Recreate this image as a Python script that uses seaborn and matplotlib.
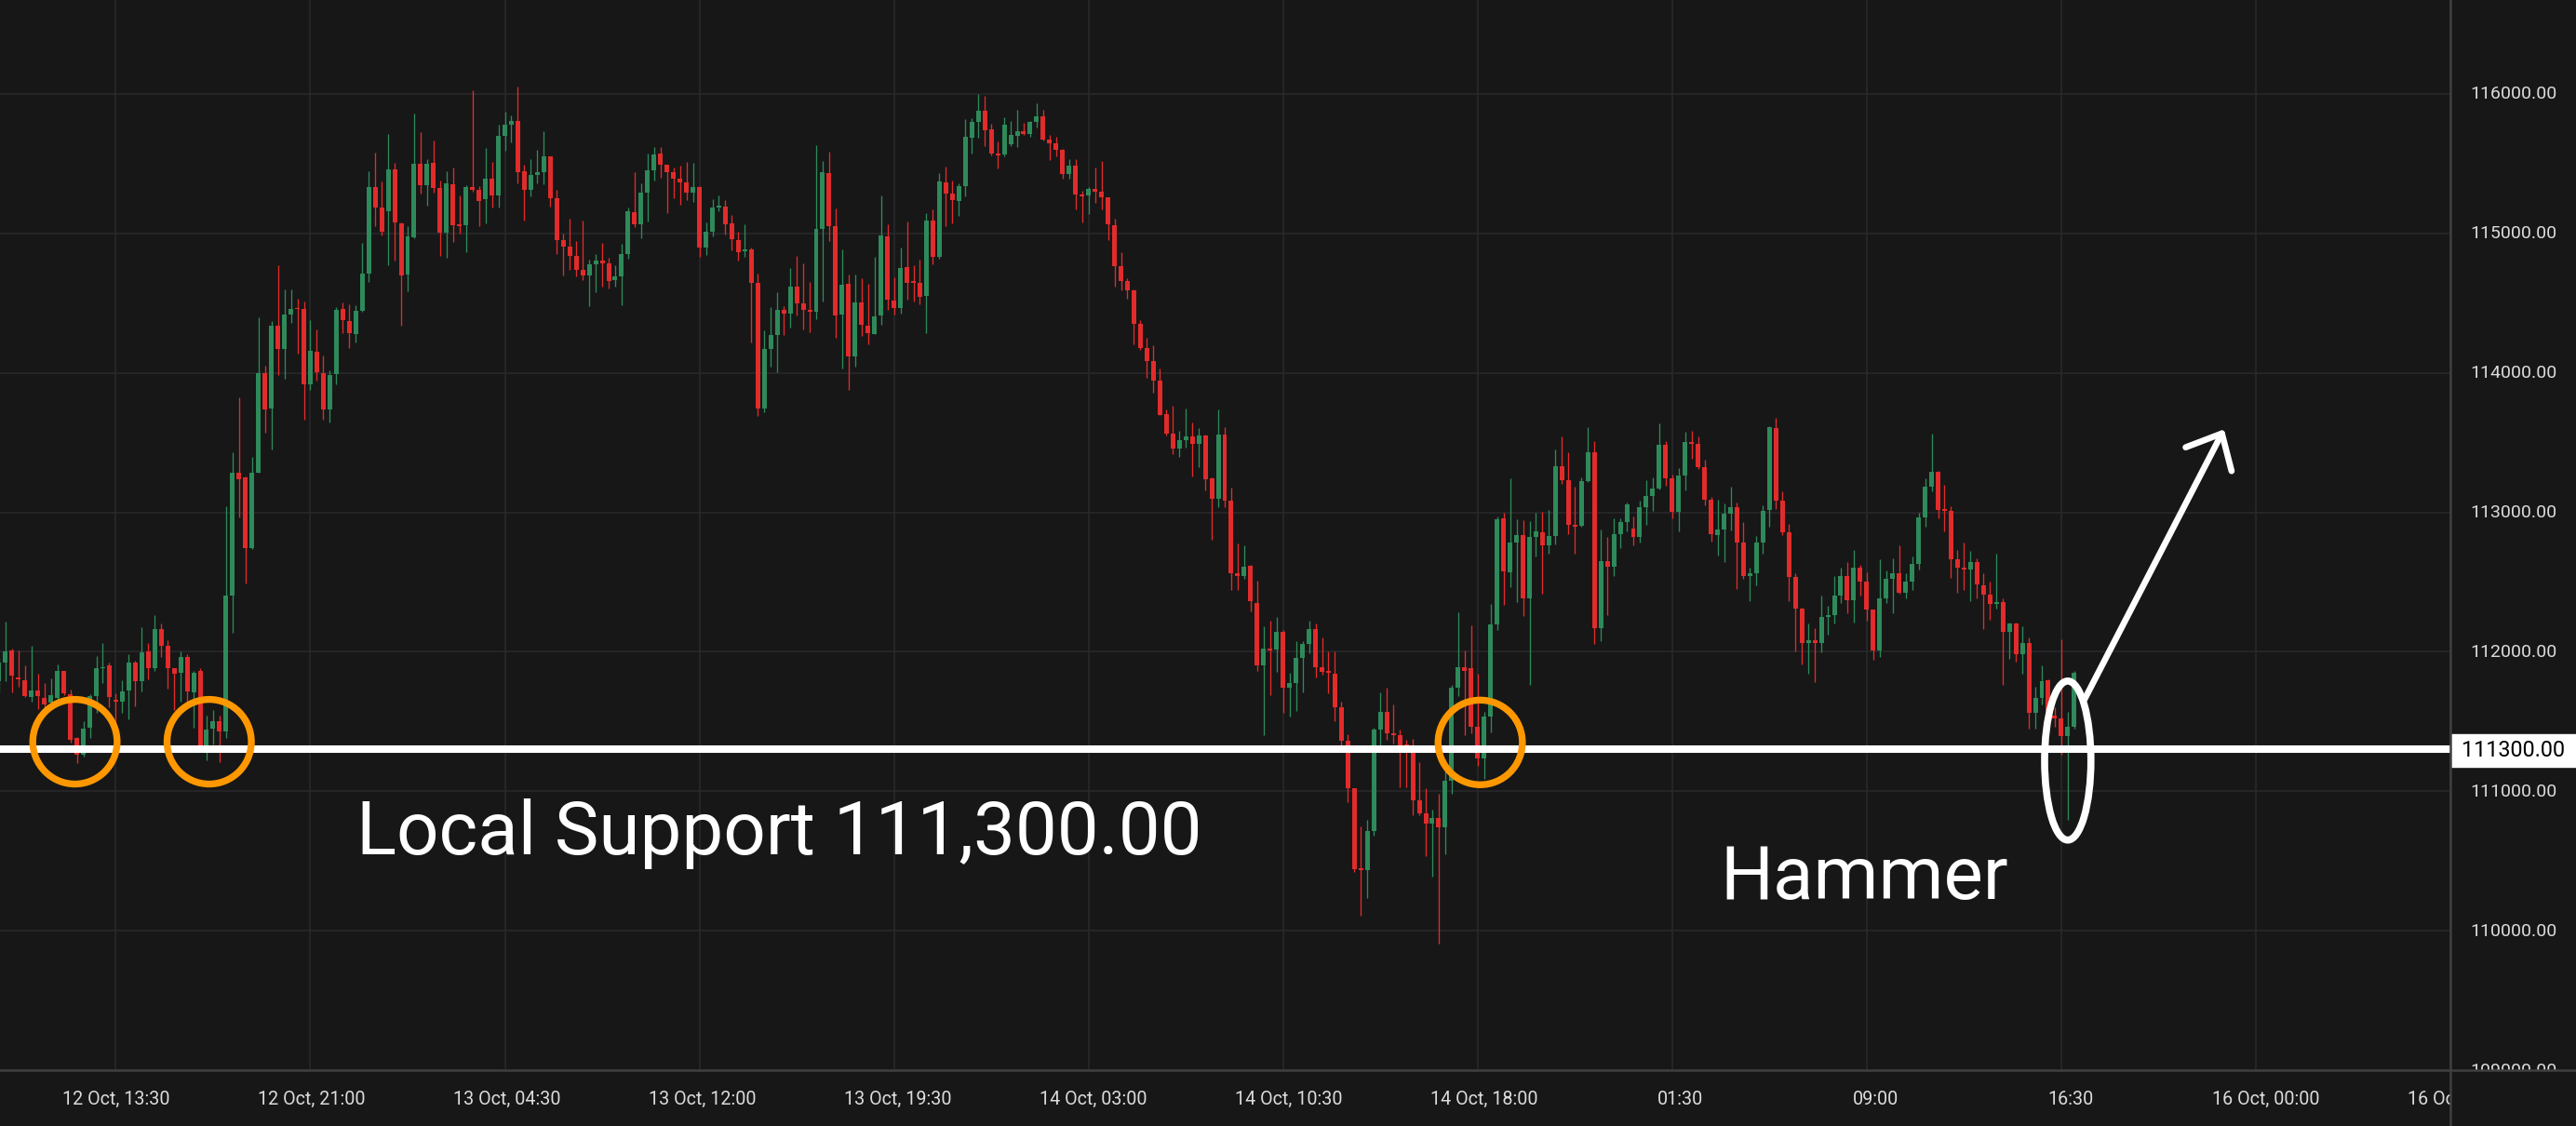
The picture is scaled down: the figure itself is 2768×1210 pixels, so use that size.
import numpy as np
import pandas as pd
import matplotlib
matplotlib.use("Agg")
import matplotlib.pyplot as plt
from matplotlib.patches import Ellipse
from matplotlib.lines import Line2D
import seaborn as sns

# ---------------- data (15-minute candles) ----------------
opens = [
    111790, 111925, 112010, 111815, 111795, 111675, 111725, 111670, 111635, 111670,
    111860, 111695, 111380, 111265, 111455, 111680, 111880, 111900, 111655, 111640,
    111720, 111925, 111790, 112000, 111880, 112165, 112045, 111880, 111850, 111965,
    111710, 111860, 111330, 111450, 111500, 111430, 112400, 113285, 113250, 112745,
    113285, 114000, 113745, 114335, 114170, 114420, 114465, 114460, 113915, 114150,
    114000, 113740, 113990, 114455, 114370, 114280, 114445, 114710, 115330, 115185,
    115160, 115460, 115075, 114705, 114975, 115500, 115345, 115505, 115325, 115005,
    115355, 115065, 115060, 115330, 115310, 115245, 115390, 115275, 115700, 115780,
    115805, 115445, 115315, 115420, 115440, 115550, 115250, 114950, 114905, 114840,
    114740, 114700, 114780, 114805, 114785, 114665, 114690, 114850, 115155, 115065,
    115290, 115450, 115570, 115490, 115440, 115390, 115365, 115290, 115330, 114900,
    115015, 115185, 115190, 115070, 114955, 114870, 114885, 114645, 113745, 114170,
    114270, 114450, 114425, 114620, 114500, 114450, 114435, 115030, 115435, 115050,
    114415, 114635, 114115, 114505, 114340, 114280, 114410, 114980, 114520, 114465,
    114755, 114650, 114645, 114550, 115090, 114830, 115365, 115285, 115235, 115340,
    115685, 115800, 115880, 115745, 115575, 115565, 115640, 115700, 115730, 115715,
    115800, 115840, 115675, 115645, 115600, 115425, 115485, 115280, 115270, 115320,
    115300, 115260, 115060, 114765, 114655, 114590, 114350, 114180, 114085, 113945,
    113705, 113565, 113460, 113520, 113545, 113490, 113550, 113245, 113100, 113555,
    113085, 112560, 112540, 112615, 112350, 111905, 112020, 112015, 112140, 111740,
    111775, 111955, 112055, 112160, 111890, 111860, 111845, 111600, 111360, 111020,
    110440, 110435, 110715, 111440, 111570, 111415, 111400, 111335, 111330, 110935,
    110840, 110770, 110810, 110740, 111075, 111740, 111890, 111880, 111460, 111235,
    111535, 112195, 112955, 112570, 112785, 112835, 112385, 112825, 112860, 112765,
    112830, 113330, 113230, 112910, 112905, 113225, 113430, 112170, 112650, 112610,
    112845, 112930, 112885, 112820, 113040, 113120, 113170, 113485, 113245, 113005,
    113265, 113505, 113490, 113325, 113090, 112840, 112875, 112990, 113040, 112785,
    112540, 112560, 112780, 113015, 113605, 113085, 112855, 112535, 112310, 112065,
    112085, 112065, 112250, 112265, 112400, 112540, 112370, 112605, 112500, 112300,
    112010, 112385, 112525, 112565, 112420, 112500, 112630, 112965, 113185, 113290,
    113020, 113010, 112660, 112600, 112590, 112640, 112475, 112410, 112345, 112355,
    112140, 112200, 111985, 112060, 111560, 111670, 111795, 111540, 111520, 111395,
    111460,
]
highs = [
    111955, 112215, 112020, 112010, 111900, 112045, 111840, 111775, 111810, 111910,
    111865, 111730, 111390, 111500, 111695, 111970, 112060, 111920, 111700, 111795,
    111980, 111935, 112175, 112060, 112265, 112200, 112085, 111885, 112000, 111985,
    111865, 111880, 111545, 111585, 111540, 113045, 113430, 113825, 113260, 113400,
    114395, 114050, 114370, 114770, 114600, 114600, 114530, 114510, 114380, 114310,
    114125, 114020, 114470, 114505, 114490, 114485, 114930, 115445, 115580, 115370,
    115710, 115505, 115080, 115050, 115860, 115725, 115530, 115665, 115380, 115445,
    115470, 115270, 115345, 116025, 115340, 115610, 115510, 115780, 115870, 115845,
    116055, 115490, 115530, 115600, 115730, 115555, 115310, 115000, 115105, 114945,
    115090, 114810, 114850, 114930, 114825, 114770, 114925, 115185, 115440, 115360,
    115570, 115620, 115620, 115495, 115470, 115485, 115510, 115505, 115340, 115080,
    115245, 115270, 115240, 115130, 115010, 115065, 114900, 114710, 114305, 114470,
    114580, 114480, 114750, 114840, 114785, 114650, 115630, 115520, 115585, 115180,
    114885, 114705, 114705, 114680, 114640, 114830, 115270, 115065, 114685, 114900,
    115085, 114770, 114810, 115145, 115170, 115430, 115480, 115380, 115360, 115820,
    115825, 116000, 115985, 115785, 115660, 115830, 115805, 115885, 115790, 115805,
    115930, 115885, 115705, 115690, 115605, 115530, 115530, 115305, 115330, 115470,
    115520, 115260, 115105, 114865, 114680, 114595, 114380, 114250, 114200, 114030,
    113740, 113765, 113585, 113745, 113645, 113605, 113555, 113250, 113740, 113610,
    113180, 112775, 112765, 112620, 112510, 112185, 112225, 112250, 112155, 111850,
    112075, 112075, 112225, 112200, 112100, 112000, 112000, 111640, 111410, 111025,
    110750, 110795, 111455, 111710, 111740, 111625, 111440, 111370, 111375, 111210,
    111020, 110870, 110985, 111230, 111765, 112285, 112010, 112190, 111845, 111570,
    112340, 112970, 113000, 113245, 112950, 112945, 112940, 113000, 113005, 113020,
    113450, 113545, 113430, 113185, 113250, 113610, 113510, 112880, 112825, 112960,
    112960, 113070, 112970, 113085, 113230, 113250, 113640, 113510, 113270, 113320,
    113580, 113585, 113545, 113380, 113110, 113090, 113065, 113185, 113070, 112930,
    112600, 112830, 113050, 113615, 113680, 113150, 112920, 112560, 112315, 112200,
    112170, 112405, 112330, 112540, 112600, 112645, 112730, 112620, 112570, 112300,
    112665, 112580, 112670, 112765, 112560, 112680, 113000, 113245, 113565, 113295,
    113200, 113045, 112730, 112780, 112725, 112670, 112560, 112500, 112700, 112385,
    112210, 112210, 112185, 112105, 111750, 111900, 111800, 111605, 112090, 111570,
    111860,
]
lows = [
    111705, 111790, 111710, 111750, 111675, 111640, 111590, 111585, 111610, 111645,
    111690, 111350, 111200, 111250, 111385, 111560, 111775, 111600, 111490, 111560,
    111515, 111610, 111715, 111800, 111865, 111965, 111735, 111585, 111645, 111645,
    111455, 111325, 111220, 111335, 111210, 111385, 112135, 112965, 112490, 112735,
    113285, 113570, 113450, 113985, 113955, 114360, 114135, 113665, 113875, 113945,
    113665, 113645, 113915, 114285, 114180, 114220, 114440, 114650, 115050, 114985,
    114775, 114805, 114340, 114585, 114965, 115285, 115200, 115290, 114840, 114825,
    114940, 115000, 114865, 115300, 115050, 115070, 115185, 115185, 115595, 115650,
    115360, 115090, 115265, 115360, 115350, 115190, 114850, 114700, 114740, 114690,
    114665, 114480, 114575, 114620, 114605, 114615, 114485, 114820, 115045, 114965,
    115085, 115380, 115400, 115145, 115250, 115205, 115240, 115225, 114830, 114845,
    114980, 115160, 114990, 114880, 114805, 114830, 114220, 113690, 113720, 114045,
    114005, 114270, 114325, 114410, 114310, 114290, 114385, 114510, 114945, 114250,
    114030, 113880, 114045, 114265, 114205, 114280, 114345, 114450, 114420, 114425,
    114525, 114510, 114490, 114285, 114780, 114820, 115050, 115070, 115125, 115265,
    115570, 115685, 115625, 115560, 115465, 115550, 115625, 115620, 115705, 115690,
    115760, 115665, 115525, 115550, 115390, 115390, 115170, 115080, 115140, 115220,
    115170, 114950, 114620, 114590, 114530, 114205, 114165, 113965, 113860, 113695,
    113550, 113420, 113400, 113465, 113260, 113325, 113155, 112805, 113040, 113040,
    112440, 112440, 112520, 112290, 111865, 111405, 111690, 111855, 111560, 111535,
    111575, 111710, 111990, 111815, 111835, 111700, 111500, 111305, 110920, 110420,
    110110, 110235, 110680, 111325, 111370, 111340, 111030, 111030, 110825, 110825,
    110535, 110390, 109910, 110545, 110980, 111680, 111405, 111415, 111185, 111090,
    111420, 112155, 112335, 112465, 112355, 112255, 111765, 112685, 112415, 112700,
    112770, 113205, 112845, 112700, 112900, 113220, 112055, 112075, 112260, 112540,
    112740, 112865, 112760, 112780, 112910, 113010, 113165, 113190, 112960, 112865,
    113160, 113385, 113310, 113050, 112790, 112690, 112645, 112870, 112450, 112525,
    112365, 112475, 112705, 112900, 113025, 112840, 112365, 112000, 111910, 111845,
    111785, 111995, 112120, 112205, 112350, 112275, 112210, 112400, 112225, 111945,
    111960, 112350, 112275, 112415, 112385, 112440, 112590, 112900, 113150, 112960,
    112865, 112530, 112425, 112440, 112360, 112380, 112160, 112230, 112310, 111765,
    111950, 111930, 111840, 111450, 111450, 111625, 111560, 111460, 111260, 110795,
    111450,
]
closes = [
    111920, 112005, 111830, 111800, 111680, 111725, 111685, 111620, 111690, 111860,
    111700, 111370, 111265, 111450, 111680, 111885, 111890, 111675, 111640, 111715,
    111925, 111790, 111995, 111880, 112165, 112045, 111885, 111840, 111965, 111715,
    111850, 111330, 111445, 111500, 111430, 112400, 113285, 113235, 112740, 113285,
    113995, 113740, 114335, 114170, 114420, 114460, 114455, 113915, 114155, 114005,
    113740, 113985, 114450, 114380, 114285, 114445, 114710, 115330, 115185, 115015,
    115460, 115080, 114700, 114980, 115500, 115345, 115500, 115325, 115005, 115360,
    115060, 115055, 115330, 115315, 115235, 115390, 115270, 115700, 115780, 115805,
    115440, 115315, 115420, 115440, 115550, 115250, 114950, 114905, 114840, 114740,
    114700, 114780, 114805, 114785, 114660, 114690, 114850, 115160, 115065, 115290,
    115450, 115565, 115490, 115440, 115390, 115365, 115290, 115330, 114900, 115010,
    115185, 115190, 115065, 114960, 114865, 114885, 114645, 113745, 114170, 114270,
    114450, 114425, 114620, 114500, 114450, 114440, 115030, 115440, 115050, 114410,
    114630, 114120, 114505, 114345, 114285, 114405, 114985, 114525, 114465, 114750,
    114645, 114645, 114545, 115090, 114830, 115370, 115285, 115240, 115340, 115690,
    115800, 115880, 115740, 115570, 115560, 115780, 115705, 115730, 115715, 115800,
    115840, 115670, 115645, 115600, 115425, 115485, 115280, 115265, 115320, 115300,
    115260, 115065, 114765, 114660, 114590, 114350, 114180, 114085, 113945, 113700,
    113565, 113460, 113520, 113545, 113490, 113550, 113240, 113100, 113555, 113085,
    112565, 112540, 112610, 112365, 111905, 112020, 112010, 112140, 111740, 111775,
    111955, 112055, 112160, 111890, 111855, 111850, 111600, 111360, 111020, 110440,
    110435, 110715, 111440, 111570, 111415, 111405, 111330, 111325, 110935, 110840,
    110770, 110810, 110740, 111075, 111740, 111890, 111860, 111460, 111235, 111535,
    112195, 112950, 112575, 112785, 112840, 112385, 112825, 112865, 112765, 112830,
    113330, 113230, 112910, 112900, 113225, 113430, 112170, 112650, 112610, 112845,
    112930, 113060, 112820, 113040, 113120, 113170, 113485, 113245, 113005, 113265,
    113505, 113490, 113325, 113090, 112845, 112880, 112990, 113040, 112785, 112540,
    112560, 112785, 113010, 113610, 113085, 112860, 112535, 112310, 112060, 112080,
    112065, 112250, 112265, 112400, 112540, 112370, 112605, 112500, 112300, 112010,
    112385, 112525, 112565, 112420, 112500, 112630, 112965, 113185, 113290, 113020,
    113010, 112660, 112600, 112590, 112640, 112480, 112410, 112345, 112355, 112140,
    112200, 111985, 112060, 111560, 111670, 111790, 111575, 111520, 111395, 111460,
    111850,
]

# time axis: first candle = 12 Oct 09:00, 15-minute bars; labels every 7.5 h
x_tick_candles = [18, 48, 78, 108, 138, 168, 198, 228, 258, 288, 318, 348, 378]
x_tick_labels = ["12 Oct, 13:30", "12 Oct, 21:00", "13 Oct, 04:30", "13 Oct, 12:00",
                 "13 Oct, 19:30", "14 Oct, 03:00", "14 Oct, 10:30", "14 Oct, 18:00",
                 "01:30", "09:00", "16:30", "16 Oct, 00:00", "16 Oct, 07:30"]
price_ticks = [109000, 110000, 111000, 112000, 113000, 114000, 115000, 116000]
support_level = 111300
support_text = "Local Support 111,300.00"
pattern_text = "Hammer"

# annotation anchors (candle index, price)
orange_marks = [(11.7, 111355), (32.4, 111355), (228.4, 111350)]
hammer_mark = (319.0, 111220)
arrow_from = (321.6, 111660)
arrow_to = (343.1, 113595)
support_text_pos = (55.1, 110547)
pattern_text_pos = (265.4, 110227)

# ---------------- style ----------------
BG = "#171717"
GRID = "#2a2a2e"
AXLINE = "#3f3f3f"
UP = "#2e8a5a"
DOWN = "#e22b2b"
ORANGE = "#ff9800"
TXT = "#dcdcdc"

sns.set_theme(style="dark", rc={"axes.facecolor": BG, "figure.facecolor": BG})
plt.rcParams["font.family"] = ["Roboto", "DejaVu Sans"]

df = pd.DataFrame({"open": opens, "high": highs, "low": lows, "close": closes})
df["i"] = np.arange(len(df))
df["up"] = df["close"] >= df["open"]
df["color"] = np.where(df["up"], UP, DOWN)

W, H = 2768, 1210
PLOT_W, PLOT_H = 2633, 1150
CANDLE_PX = 7.0
FIRST_PX = -1.0
PX_PER_1000 = 150.0
TOP_GRID_PX = 101.0

fig = plt.figure(figsize=(W / 100, H / 100), dpi=100)
fig.patch.set_facecolor(BG)
ax = fig.add_axes([0, 1 - PLOT_H / H, PLOT_W / W, PLOT_H / H])
ax.set_facecolor(BG)

x_lo = (0 - FIRST_PX) / CANDLE_PX
x_hi = (PLOT_W - FIRST_PX) / CANDLE_PX
y_hi = price_ticks[-1] + TOP_GRID_PX / PX_PER_1000 * 1000
y_lo = y_hi - PLOT_H / PX_PER_1000 * 1000
ax.set_xlim(x_lo, x_hi)
ax.set_ylim(y_lo, y_hi)
px_x = (x_hi - x_lo) / PLOT_W
px_y = (y_hi - y_lo) / PLOT_H

sns.despine(ax=ax, left=True, bottom=True)
ax.set_xticks(x_tick_candles)
ax.set_yticks(price_ticks)
ax.tick_params(which="both", length=0, labelbottom=False, labelleft=False)
ax.grid(True, color=GRID, linewidth=1.1)
ax.set_axisbelow(True)

# wicks and bodies
ax.vlines(df["i"], df["low"], df["high"], colors=df["color"], linewidth=0.95, zorder=2)
body_lo = np.minimum(df["open"], df["close"])
body_h = np.maximum((df["close"] - df["open"]).abs(), 1.6 * px_y)
ax.bar(df["i"], body_h, bottom=body_lo, width=5.0 / CANDLE_PX, color=df["color"],
       linewidth=0, zorder=3)

# support line
ax.axhline(support_level, color="white", linewidth=5.8, zorder=5)

# orange circles
for cx, cy in orange_marks:
    ax.add_patch(Ellipse((cx, cy), width=2 * 45.5 * px_x, height=2 * 45.5 * px_y,
                         fill=False, edgecolor=ORANGE, linewidth=5.3, zorder=6))

# hammer ellipse and arrow
ax.add_patch(Ellipse(hammer_mark, width=50 * px_x, height=171 * px_y, fill=False,
                     edgecolor="white", linewidth=5.5, zorder=6))
ax.annotate("", xy=arrow_to, xytext=arrow_from,
            arrowprops=dict(arrowstyle="->,head_length=1.12,head_width=1.0",
                            color="white", lw=4.8, shrinkA=0, shrinkB=0,
                            mutation_scale=20), zorder=7)

ax.text(*support_text_pos, support_text, color="white", fontsize=57.5,
        ha="left", va="baseline", zorder=8)
ax.text(*pattern_text_pos, pattern_text, color="white", fontsize=57.5,
        ha="left", va="baseline", zorder=8)

# bottom time-axis strip
ax_b = fig.add_axes([0, 0, PLOT_W / W, (H - PLOT_H) / H])
ax_b.set_xlim(x_lo, x_hi)
ax_b.set_ylim(0, 1)
ax_b.axis("off")
for pos, lab in zip(x_tick_candles, x_tick_labels):
    ax_b.text(pos, 0.47, lab, color=TXT, fontsize=14.2, ha="center", va="center",
              clip_on=True)

# right price-axis strip
ax_r = fig.add_axes([PLOT_W / W, 1 - PLOT_H / H, (W - PLOT_W) / W, PLOT_H / H])
ax_r.set_xlim(0, 1)
ax_r.set_ylim(y_lo, y_hi)
ax_r.axis("off")
for p in price_ticks:
    ax_r.text(0.5, p, f"{p:.2f}", color=TXT, fontsize=14, ha="center", va="center",
              clip_on=True)
hh = 17.5 * px_y
ax_r.axhspan(support_level - hh, support_level + hh, color="white", zorder=2)
ax_r.text(0.5, support_level, f"{support_level:.2f}", color="black", fontsize=16.8,
          ha="center", va="center", zorder=3)

# axis lines
fig.add_artist(Line2D([0, 1], [1 - PLOT_H / H] * 2, transform=fig.transFigure,
                      color=AXLINE, linewidth=1.8))
fig.add_artist(Line2D([PLOT_W / W] * 2, [0, 1], transform=fig.transFigure,
                      color=AXLINE, linewidth=1.8))

fig.savefig("out.png", dpi=100, facecolor=BG)
